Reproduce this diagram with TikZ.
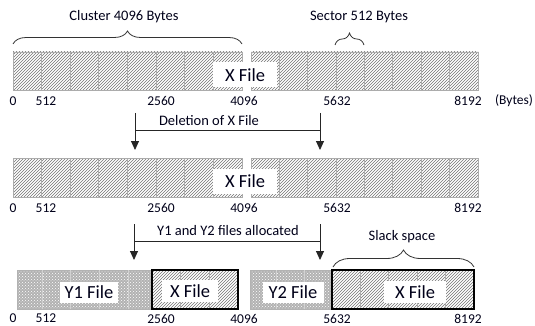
\documentclass[tikz,border=0pt]{standalone}
\usepackage{fontspec}
\setmainfont{Carlito}
\usetikzlibrary{patterns,decorations.pathreplacing,arrows.meta}
\begin{document}
\begin{tikzpicture}[x=1pt,y=-1pt,
  hatch/.style={pattern=north east lines, pattern color=black!55},
  cellline/.style={draw=gray!65, line width=0.9pt},
  dotfill/.style={fill=gray!60, postaction={pattern=crosshatch dots, pattern color=white}},
  filebox/.style={fill=white, inner sep=0pt, font=\fontsize{18.5}{20}\selectfont, text=black!90!blue},
  lbl/.style={font=\fontsize{13.5}{15}\selectfont, inner sep=0pt, text=black!90!blue},
  captext/.style={font=\fontsize{14.5}{16}\selectfont, inner sep=0pt, text=black!90!blue},
  brc/.style={draw=black!80, line width=0.8pt, decorate, decoration={brace, amplitude=#1}},
  arr/.style={draw=black!85, line width=0.9pt, -{Triangle[width=8pt,length=9pt]}},
  stem/.style={draw=black!85, line width=0.9pt},
  thickbox/.style={draw=black, line width=1.8pt}
]
\useasboundingbox (0,0) rectangle (535,326);

% ---------- rows 1 and 2 ----------
\foreach \t/\b in {52/90, 158/197} {
  \path[hatch] (13,\t) rectangle (242,\b);
  \path[hatch] (251,\t) rectangle (478,\b);
  \foreach \i in {0,...,7} {
    \draw[cellline] ({13+\i*28.625},\t) rectangle ({13+(\i+1)*28.625},\b);
    \draw[cellline] ({251+\i*28.375},\t) rectangle ({251+(\i+1)*28.375},\b);
  }
}
\node[filebox, minimum width=64pt, minimum height=25pt] (x1) at (245,75) {X File};
\node[filebox, minimum width=64pt, minimum height=25pt] (x2) at (245,181) {X File};

% ---------- row 3 ----------
\path[dotfill] (17,270) rectangle (152,309);
\draw[gray!60, line width=0.6pt] (17,270) rectangle (152,309);
\foreach \x in {42,70,99,128} \draw[gray!35, line width=0.6pt] (\x,270) -- (\x,309);
\path[hatch] (152,270) rectangle (238,309);
\foreach \x in {180.6,209.2} \draw[cellline] (\x,270) -- (\x,309);

\path[dotfill] (250,270) rectangle (332,309);
\draw[gray!60, line width=0.6pt] (250,270) rectangle (332,309);
\foreach \x in {276,304} \draw[gray!35, line width=0.6pt] (\x,270) -- (\x,309);
\path[hatch] (332,270) rectangle (474,309);
\foreach \x in {360.4,388.8,417.2,445.6} \draw[cellline] (\x,270) -- (\x,309);

\node[filebox, minimum width=58pt, minimum height=21pt] (y1) at (89,292) {Y1 File};
\node[filebox, minimum width=56pt, minimum height=22pt] (x3) at (190,291) {X File};
\node[filebox, minimum width=61pt, minimum height=21pt] (y2) at (293,292) {Y2 File};
\node[filebox, minimum width=62pt, minimum height=22pt] (x4) at (415,292) {X File};

\draw[thickbox] (152,270) rectangle (238,309);
\draw[thickbox] (332,270) rectangle (474,309);

% ---------- byte labels ----------
\foreach \y [count=\r] in {101,208,318.5} {
  \node[lbl] (l0-\r) at (13,\y) {0};
  \node[lbl] (l512-\r) at (46,\y) {512};
  \node[lbl] (l2560-\r) at (161,\y) {2560};
  \node[lbl] (l4096-\r) at (244,\y) {4096};
  \node[lbl] (l5632-\r) at (337,\y) {5632};
  \node[lbl] (l8192-\r) at (468,\y) {8192};
}
\node[lbl] (bytes) at (514,101) {(Bytes)};

% ---------- braces ----------
\coordinate (cbl) at (13,44);
\coordinate (cbr) at (242,44);
\draw[brc=13] (cbl) -- (cbr);
\node[captext] (clus) at (124,17) {Cluster 4096 Bytes};

\coordinate (sbl) at (335,45);
\coordinate (sbr) at (364,45);
\draw[brc=12] (sbl) -- (sbr);
\node[captext] (sect) at (359,17) {Sector 512 Bytes};

\coordinate (kbl) at (333,267);
\coordinate (kbr) at (474,267);
\draw[brc=17] (kbl) -- (kbr);
\node[captext] (slack) at (402,237) {Slack space};

% ---------- arrows: deletion ----------
\coordinate (d1s) at (135,113);
\coordinate (d1e) at (135,150);
\coordinate (d2s) at (320,113);
\coordinate (d2e) at (320,150);
\coordinate (dhl) at (135,130);
\coordinate (dhr) at (320,130);
\draw[arr] (d1s) -- (d1e);
\draw[arr] (d2s) -- (d2e);
\draw[stem] (dhl) -- (dhr);
\node[captext] (del) at (209,121) {Deletion of X File};

% ---------- arrows: allocation ----------
\coordinate (a1s) at (134,224);
\coordinate (a1e) at (134,260);
\coordinate (a2s) at (320,224);
\coordinate (a2e) at (320,260);
\coordinate (ahl) at (134,241);
\coordinate (ahr) at (320,241);
\draw[arr] (a1s) -- (a1e);
\draw[arr] (a2s) -- (a2e);
\draw[stem] (ahl) -- (ahr);
\node[captext] (alloc) at (228,231) {Y1 and Y2 files allocated};
\end{tikzpicture}
\end{document}
